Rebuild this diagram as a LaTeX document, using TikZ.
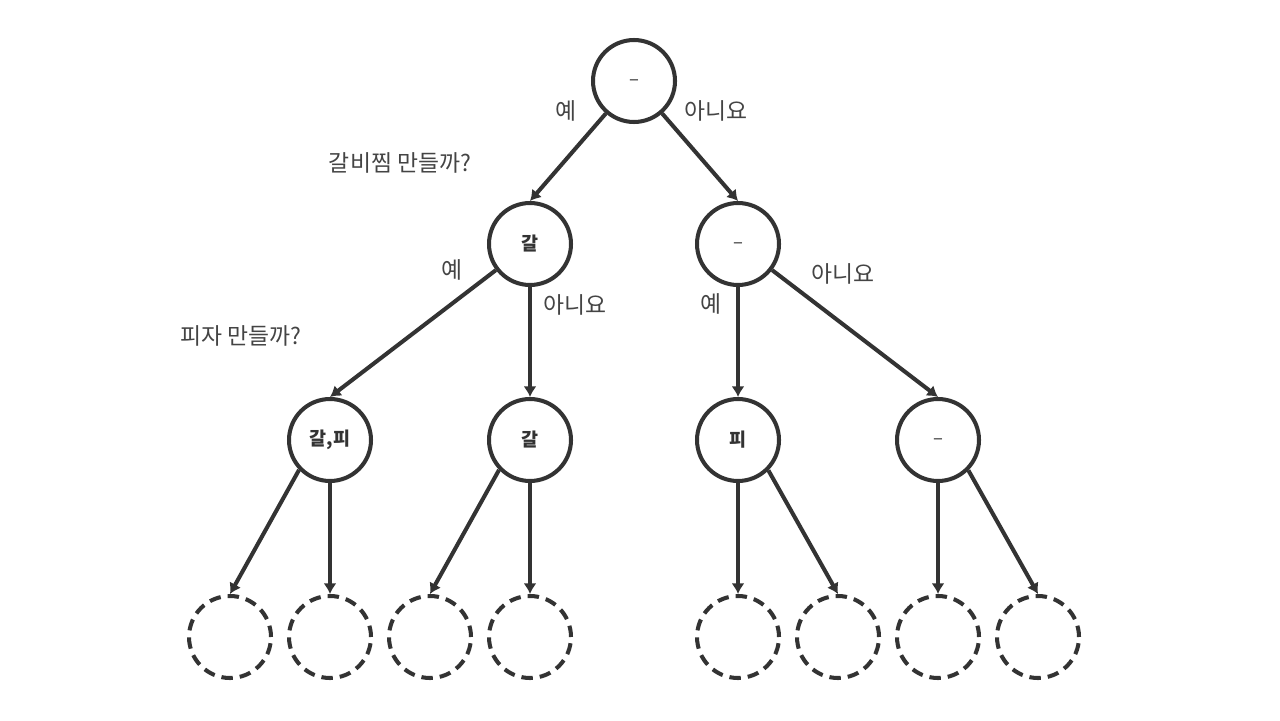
\documentclass[tikz,border=0pt]{standalone}
\usepackage{fontspec}
\newfontfamily\kofont{Noto Sans CJK KR}
\usetikzlibrary{arrows.meta}

\definecolor{ink}{HTML}{333333}
\definecolor{txt}{HTML}{444444}

\newcommand{\nochoice}{\raisebox{-2.4pt}[0pt][0pt]{\mdseries –}}

\begin{document}
\begin{tikzpicture}[
  x=0.02cm, y=-0.02cm,
  choice/.style={draw=ink,circle,line width=2.3pt,minimum size=1.64cm,inner sep=0pt,text=ink,font=\kofont\bfseries\fontsize{10.5}{12}\selectfont},
  emptyleaf/.style={choice,dash pattern=on 6.5pt off 4pt},
  ans/.style={text=txt,font=\kofont\fontsize{13}{15}\selectfont},
  link/.style={draw=ink,line width=2.3pt,-{Latex[length=6pt,width=7.4pt]}}
]
  \useasboundingbox (0,0) rectangle (1280,720);

  \node[choice] (root) at (634,81) {\nochoice};
  \node[choice] (gal) at (530,244) {갈};
  \node[choice] (none) at (738,244) {\nochoice};
  \node[choice] (galpi) at (330,440) {갈,피};
  \node[choice] (galonly) at (530,440) {갈};
  \node[choice] (pi) at (738,440) {피};
  \node[choice] (nothing) at (938,440) {\nochoice};

  \node[emptyleaf] (leafa) at (230,637) {};
  \node[emptyleaf] (leafb) at (330,637) {};
  \node[emptyleaf] (leafc) at (430,637) {};
  \node[emptyleaf] (leafd) at (530,637) {};
  \node[emptyleaf] (leafe) at (738,637) {};
  \node[emptyleaf] (leaff) at (838,637) {};
  \node[emptyleaf] (leafg) at (938,637) {};
  \node[emptyleaf] (leafh) at (1038,637) {};

  % questions and answers
  \node[ans] (askgalbi) at (400,163) {갈비찜 만들까?};
  \node[ans] (askpizza) at (241,336) {피자 만들까?};
  \node[ans] (yesroot) at (566,111) {예};
  \node[ans] (noroot) at (716,111) {아니요};
  \node[ans] (yesgal) at (452,270) {예};
  \node[ans] (nogal) at (575,305) {아니요};
  \node[ans] (yesnone) at (711,304) {예};
  \node[ans] (nonone) at (843,274) {아니요};

  \draw[link] (root) -- (gal.north);
  \draw[link] (root) -- (none.north);
  \draw[link] (gal) -- (galpi.north);
  \draw[link] (gal) -- (galonly.north);
  \draw[link] (none) -- (pi.north);
  \draw[link] (none) -- (nothing.north);

  \draw[link] (galpi.224) -- (leafa.north);
  \draw[link] (galpi) -- (leafb.north);
  \draw[link] (galonly.224) -- (leafc.north);
  \draw[link] (galonly) -- (leafd.north);
  \draw[link] (pi) -- (leafe.north);
  \draw[link] (pi.-45) -- (leaff.north);
  \draw[link] (nothing) -- (leafg.north);
  \draw[link] (nothing.-45) -- (leafh.north);
\end{tikzpicture}
\end{document}
